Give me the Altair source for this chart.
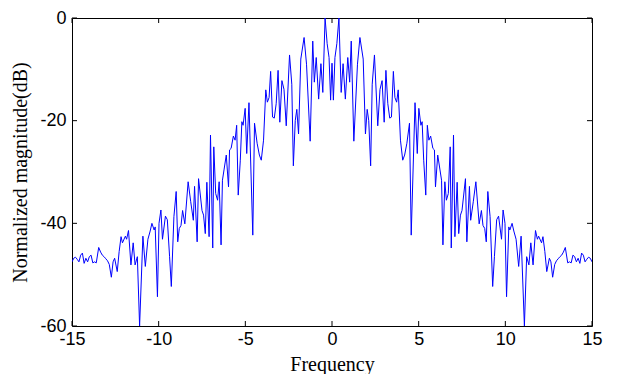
import altair as alt
import pandas as pd

# Frequency / magnitude (left half, centre, right half)
freq_left = [-15.0, -14.9, -14.8, -14.7, -14.6, -14.5, -14.4, -14.3, -14.2, -14.1, -14.0, -13.9, -13.8, -13.7, -13.6,
             -13.46, -13.35, -13.25, -13.15, -13.05, -12.95, -12.85, -12.73, -12.63, -12.54, -12.39, -12.28, -12.17,
             -12.09, -11.92, -11.85, -11.74, -11.6, -11.47, -11.36, -11.23, -11.1, -10.91, -10.77, -10.62, -10.49,
             -10.39, -10.26, -10.2, -10.07, -9.98, -9.87, -9.78, -9.61, -9.5, -9.37, -9.27, -9.12, -8.99, -8.9, -8.81,
             -8.71, -8.62, -8.49, -8.3, -8.15, -8.0, -7.93, -7.78, -7.7, -7.5, -7.41, -7.31, -7.22, -7.09, -7.01,
             -6.88, -6.82, -6.71, -6.6, -6.51, -6.4, -6.32, -6.23, -6.1, -5.97, -5.91, -5.82, -5.69, -5.59, -5.5,
             -5.41, -5.29, -5.2, -5.13, -5.01, -4.92, -4.79, -4.57, -4.47, -4.32, -4.19, -4.08, -3.95, -3.82, -3.73,
             -3.63, -3.54, -3.43, -3.33, -3.22, -3.11, -3.01, -2.89, -2.77, -2.64, -2.45, -2.32, -2.23, -2.12, -2.03,
             -1.93, -1.8, -1.61, -1.47, -1.26, -1.11, -1.02, -0.91, -0.77, -0.64, -0.53, -0.4, -0.28, -0.17, -0.08]
db_left = [-47.5, -46.8, -46.6, -47.0, -47.5, -46.2, -45.8, -47.8, -46.8, -47.5, -46.5, -46.2, -47.7, -47.5, -47.7,
           -44.7, -45.6, -46.2, -46.5, -46.9, -47.3, -48.0, -50.5, -47.5, -46.8, -49.4, -45.5, -42.6,
           -43.8, -42.5, -43.1, -41.4, -48.1, -43.8, -48.1, -46.5, -60.0, -42.5, -48.4, -43.1, -41.5,
           -40.0, -41.3, -40.7, -54.3, -40.0, -37.4, -43.1, -38.6, -39.3, -46.5, -52.3, -38.7, -33.8, -43.6, -41.0,
           -40.4, -37.5, -40.1, -31.9, -35.8, -39.4, -32.8, -43.6, -31.3, -37.5, -38.4, -42.0, -32.0, -42.6, -22.8,
           -44.8, -25.1, -34.2, -35.5, -31.9, -44.2, -31.6, -29.6, -26.7, -32.9, -25.7, -25.4, -23.0, -23.8, -20.9,
           -34.5, -27.7, -20.2, -20.9, -17.6, -26.4, -16.5, -42.3, -20.5, -24.4, -26.7, -27.7, -23.8, -14.0, -16.4,
           -15.5, -10.4, -19.3, -19.5, -16.7, -10.2, -20.3, -12.2, -13.9, -21.0, -7.2, -12.9, -28.8, -20.0, -17.8,
           -22.6, -8.0, -3.8, -9.0, -24.0, -4.5, -12.5, -7.7, -15.8, -8.9, -14.5, 0.0, -5.0, -7.7, -16.0]

freq_center = [0.0]
db_center = [-8.8]

freq_right = [0.08, 0.17, 0.28, 0.4, 0.53, 0.64, 0.77, 0.91, 1.02, 1.11, 1.26, 1.47, 1.61, 1.8, 1.93, 2.03, 2.12,
              2.23, 2.32, 2.45, 2.64, 2.77, 2.89, 3.01, 3.11, 3.22, 3.33, 3.43, 3.54, 3.63, 3.73, 3.82, 3.95, 4.08,
              4.19, 4.32, 4.47, 4.57, 4.79, 4.92, 5.01, 5.13, 5.2, 5.29, 5.41, 5.5, 5.59, 5.69, 5.82, 5.91, 5.97,
              6.1, 6.23, 6.32, 6.4, 6.51, 6.6, 6.71, 6.82, 6.88, 7.01, 7.09, 7.22, 7.31, 7.41, 7.5, 7.7, 7.78, 7.93,
              8.0, 8.15, 8.3, 8.49, 8.62, 8.71, 8.81, 8.9, 8.99, 9.12, 9.27, 9.37, 9.5, 9.61, 9.78, 9.87, 9.98,
              10.07, 10.2, 10.26, 10.39, 10.49, 10.62, 10.77, 10.91, 11.1, 11.23, 11.36, 11.47, 11.6, 11.74, 11.85,
              11.92, 12.09, 12.17, 12.28, 12.39, 12.54, 12.63, 12.73, 12.85, 12.95, 13.05, 13.15, 13.25, 13.35,
              13.46, 13.6, 13.7, 13.8, 13.9, 14.0, 14.1, 14.2, 14.3, 14.4, 14.5, 14.6, 14.7, 14.8, 14.9, 15.0]
db_right = [-16.0, -7.7, -5.0, 0.0, -14.5, -8.9, -15.8, -7.7, -12.5, -4.5, -24.0, -9.0, -3.8, -8.0, -22.6, -17.8,
            -20.0, -28.8, -12.9, -7.2, -21.0, -13.9, -12.2, -20.3, -10.2, -16.7, -19.5, -19.3, -10.4, -15.5, -16.4,
            -14.0, -23.8, -27.7, -26.7, -24.4, -20.5, -42.3, -16.5, -26.4, -17.6, -20.9, -20.2, -27.7, -34.5, -20.9,
            -23.8, -23.0, -25.4, -25.7, -32.9, -26.7, -29.6, -31.6, -44.2, -31.9, -35.5, -34.2, -25.1, -44.8, -22.8,
            -42.6, -32.0, -42.0, -38.4, -37.5, -31.3, -43.6, -32.8, -39.4, -35.8, -31.9, -40.1, -37.5, -40.4, -41.0,
            -43.6, -33.8, -38.7, -52.3, -46.5, -39.3, -38.6, -43.1, -37.4, -40.0, -54.3, -40.7, -41.3, -40.0, -41.5,
            -43.1, -48.4, -42.5, -60.0, -46.5, -48.1, -43.8, -48.1, -41.4, -43.1, -42.5, -43.8, -42.6, -45.5, -49.4,
            -46.8, -47.5, -50.5, -48.0, -47.3, -46.9, -46.5, -46.2, -45.6, -44.7, -47.7, -47.5, -47.7, -46.2, -46.5,
            -47.5, -46.8, -47.8, -45.8, -46.2, -47.5, -47.0, -46.6, -46.8, -47.5]

x_ticks = [-15, -10, -5, 0, 5, 10, 15]
y_ticks = [-60, -40, -20, 0]

W, H = 520, 308

df = pd.DataFrame({
    "freq": freq_left + freq_center + freq_right,
    "db": db_left + db_center + db_right,
})
xt = pd.DataFrame({"freq": x_ticks})
yt = pd.DataFrame({"db": y_ticks})

xscale = alt.Scale(domain=[-15, 15], nice=False, zero=False)
yscale = alt.Scale(domain=[-60, 0], nice=False, zero=False)

x_axis = alt.Axis(values=x_ticks, ticks=False, tickSize=0, domain=False, grid=False,
                  labelPadding=4, titlePadding=6, labelFlush=False, labelOverlap=False,
                  labelExpr="'' + datum.value")
y_axis = alt.Axis(values=y_ticks, ticks=False, tickSize=0, domain=False, grid=False,
                  labelPadding=6, titlePadding=9, labelFlush=False, labelOverlap=False,
                  labelExpr="'' + datum.value")

X = alt.X("freq:Q", scale=xscale, title="Frequency", axis=x_axis)
Y = alt.Y("db:Q", scale=yscale, title="Normalized magnitude(dB)", axis=y_axis)

line = alt.Chart(df).mark_line(color="#0000ff", strokeWidth=1, clip=True).encode(x=X, y=Y)

tick_len = 5
xt_bottom = alt.Chart(xt).mark_rule(color="black", strokeWidth=1).encode(
    x=X, y=alt.value(H), y2=alt.value(H - tick_len))
xt_top = alt.Chart(xt).mark_rule(color="black", strokeWidth=1).encode(
    x=X, y=alt.value(0), y2=alt.value(tick_len))
yt_left = alt.Chart(yt).mark_rule(color="black", strokeWidth=1).encode(
    y=Y, x=alt.value(0), x2=alt.value(tick_len))
yt_right = alt.Chart(yt).mark_rule(color="black", strokeWidth=1).encode(
    y=Y, x=alt.value(W), x2=alt.value(W - tick_len))

chart = alt.layer(line, xt_bottom, xt_top, yt_left, yt_right).properties(
    width=W, height=H,
    autosize=alt.AutoSizeParams(type="none"),
    padding={"left": 64, "top": 10, "right": 12, "bottom": 48},
    background="white",
).configure_view(
    stroke="black", strokeWidth=1
).configure_axis(
    labelFont="Liberation Sans", labelFontSize=18, labelColor="black",
    titleFont="Liberation Serif", titleFontSize=20, titleFontWeight="normal", titleColor="black",
)

chart.save("out.html", embed_options={"renderer": "svg", "actions": False})
